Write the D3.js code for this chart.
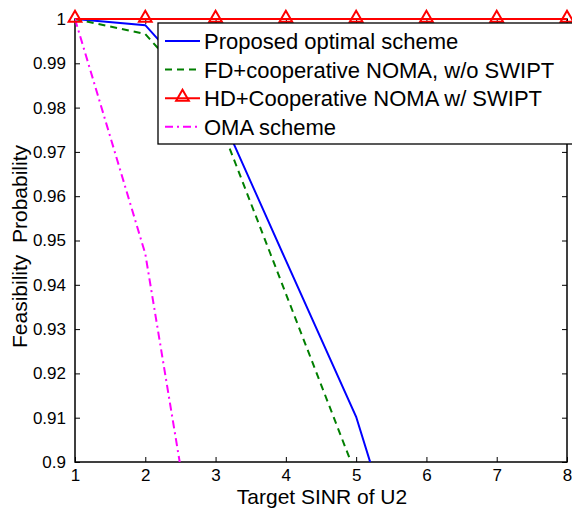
<!DOCTYPE html>
<html>
<head>
<meta charset="utf-8">
<script src="https://cdn.jsdelivr.net/npm/d3@7"></script>
<style>
  body { margin: 0; background: #fff; }
  text { font-family: "Liberation Sans", Arial, sans-serif; fill: #000; }
</style>
</head>
<body>
<div id="chart"></div>
<script>
var sinr = [1, 2, 3, 4, 5, 6, 7, 8];
var proposed = [1, 0.9986, 0.981, 0.9455, 0.9102, 0.859, 0.80, 0.74];
var fdNoSwipt = [1, 0.9966, 0.979, 0.938, 0.897, 0.85, 0.79, 0.73];
var hdSwipt = [1, 1, 1, 1, 1, 1, 1, 1];
var oma = [1, 0.947, 0.851, 0.75, 0.65, 0.55, 0.45, 0.35];
var yTicks = [0.9, 0.91, 0.92, 0.93, 0.94, 0.95, 0.96, 0.97, 0.98, 0.99, 1];
var legendNames = ["Proposed optimal scheme", "FD+cooperative NOMA, w/o SWIPT",
                   "HD+Cooperative NOMA w/ SWIPT", "OMA scheme"];

var w = 572, h = 510;
var pLeft = 75, pRight = 567, pTop = 19, pBottom = 462;

var svg = d3.select("#chart")
    .append("svg")
    .attr("width", w)
    .attr("height", h);

var x = d3.scaleLinear().domain([1, 8]).range([pLeft, pRight]);
var y = d3.scaleLinear().domain([0.9, 1]).range([pBottom, pTop]);

svg.append("clipPath")
    .attr("id", "plotclip")
    .append("rect")
    .attr("x", pLeft).attr("y", pTop - 1)
    .attr("width", pRight - pLeft).attr("height", pBottom - pTop + 1);

// axes, ticks pointing inward, mirrored on the opposite sides
var xAxis = d3.axisBottom(x).ticks(8).tickSize(-5).tickPadding(7).tickFormat(d3.format("d"));
var xTop = d3.axisTop(x).ticks(8).tickSize(-5).tickFormat("");
var yAxis = d3.axisLeft(y).tickValues(yTicks).tickSize(-5).tickPadding(9)
    .tickFormat(function(d) { return d == 1 ? "1" : d3.format(".2~f")(d); });
var yRight = d3.axisRight(y).tickValues(yTicks).tickSize(-5).tickFormat("");

function styleAxis(g) {
  g.select(".domain").remove();
  g.selectAll("line").attr("stroke", "#000").attr("stroke-width", 1);
  g.selectAll("text").style("font-size", "17px").attr("fill", "#000")
      .style("font-family", "Liberation Sans, Arial, sans-serif");
}

svg.append("g").attr("transform", "translate(0," + pBottom + ")").call(xAxis).call(styleAxis);
svg.append("g").attr("transform", "translate(0," + pTop + ")").call(xTop).call(styleAxis);
svg.append("g").attr("transform", "translate(" + pLeft + ",0)").call(yAxis).call(styleAxis);
svg.append("g").attr("transform", "translate(" + pRight + ",0)").call(yRight).call(styleAxis);

svg.append("rect")
    .attr("x", pLeft).attr("y", pTop)
    .attr("width", pRight - pLeft).attr("height", pBottom - pTop)
    .attr("fill", "none").attr("stroke", "#000").attr("stroke-width", 1.5);

var line = d3.line()
    .x(function(d, i) { return x(sinr[i]); })
    .y(function(d) { return y(d); });

var series = [
  { vals: proposed, color: "#0000ff", dash: null },
  { vals: fdNoSwipt, color: "#007f00", dash: "7,5" },
  { vals: hdSwipt, color: "#ff0000", dash: null, marker: true },
  { vals: oma, color: "#ff00ff", dash: "8,4,2,4" }
];

var plot = svg.append("g").attr("clip-path", "url(#plotclip)");
series.forEach(function(s) {
  plot.append("path")
      .attr("d", line(s.vals))
      .attr("fill", "none")
      .attr("stroke", s.color)
      .attr("stroke-width", 2)
      .attr("stroke-dasharray", s.dash);
});

var tri = d3.symbol().type(d3.symbolTriangle).size(70);
svg.selectAll(".tri")
    .data(hdSwipt)
    .enter()
    .append("path")
    .attr("class", "tri")
    .attr("d", tri)
    .attr("transform", function(d, i) { return "translate(" + x(sinr[i]) + "," + (y(d) - 1) + ")"; })
    .attr("fill", "none")
    .attr("stroke", "#ff0000")
    .attr("stroke-width", 2);

// legend
var lg = svg.append("g");
lg.append("rect")
    .attr("x", 158).attr("y", 23)
    .attr("width", 420).attr("height", 121)
    .attr("fill", "#fff").attr("stroke", "#000").attr("stroke-width", 1.3);

legendNames.forEach(function(name, i) {
  var s = series[i];
  var yy = 41 + i * 28.6;
  lg.append("line")
      .attr("x1", 165).attr("x2", 200)
      .attr("y1", yy).attr("y2", yy)
      .attr("stroke", s.color).attr("stroke-width", 2)
      .attr("stroke-dasharray", s.dash);
  if (s.marker) {
    lg.append("path")
        .attr("d", tri)
        .attr("transform", "translate(182.5," + (yy - 1) + ")")
        .attr("fill", "none").attr("stroke", s.color).attr("stroke-width", 2);
  }
  lg.append("text")
      .attr("x", 204).attr("y", yy + 8)
      .style("font-size", "22px")
      .text(name);
});

svg.append("text")
    .attr("x", (pLeft + pRight) / 2 + 1).attr("y", 504)
    .attr("text-anchor", "middle")
    .style("font-size", "21px")
    .text("Target SINR of U2");

svg.append("text")
    .attr("transform", "translate(27," + ((pTop + pBottom) / 2 + 6) + ") rotate(-90)")
    .attr("text-anchor", "middle")
    .style("font-size", "21px")
    .style("white-space", "pre")
    .text("Feasibility  Probability");
</script>
</body>
</html>
